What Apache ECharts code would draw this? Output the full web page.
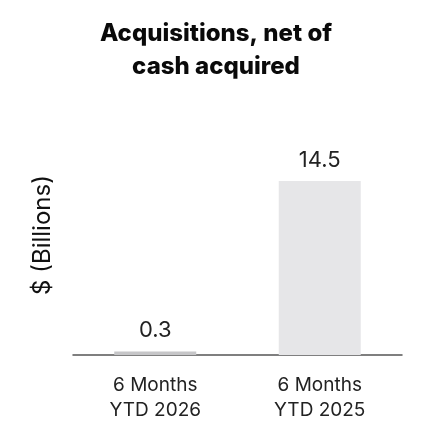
<!DOCTYPE html>
<html><head><meta charset="utf-8">
<script src="https://cdn.jsdelivr.net/npm/echarts@6/dist/echarts.min.js"></script>
<style>html,body{margin:0;padding:0;background:#fff}#c{width:422px;height:440px}</style>
</head><body><div id="c"></div>
<script>
const categories = ['6 Months\nYTD 2026', '6 Months\nYTD 2025'];
const values = [0.3, 14.5];
const barColors = ['#c6c6c8', '#e6e6e8'];
const chart = echarts.init(document.getElementById('c'), null, {renderer: 'canvas'});
chart.setOption({
  animation: false,
  title: {
    text: 'Acquisitions, net of\ncash acquired',
    left: 211, top: 12, textAlign: 'center',
    textStyle: {fontFamily: 'Inter', fontWeight: 800, fontSize: 24, lineHeight: 33, color: '#0a0a0a'}
  },
  grid: {left: 73, right: 20, top: 115, bottom: 85, containLabel: false},
  xAxis: {
    type: 'category', data: categories,
    axisLine: {lineStyle: {color: '#555', width: 1.5}},
    axisTick: {show: false},
    axisLabel: {fontFamily: 'Inter', fontSize: 19, color: '#222', lineHeight: 25, margin: 18}
  },
  yAxis: {
    type: 'value', min: 0, max: 20,
    name: '$ (Billions)', nameLocation: 'middle', nameGap: 18, nameRotate: 90,
    nameTextStyle: {fontFamily: 'Inter', fontSize: 24, color: '#111'},
    axisLine: {show: false}, axisTick: {show: false}, axisLabel: {show: false},
    splitLine: {show: false}
  },
  series: [{
    type: 'bar', barWidth: 82,
    data: values.map((v, i) => ({value: v, itemStyle: {color: barColors[i]}})),
    label: {show: true, position: 'top', distance: 10, fontFamily: 'Inter', fontSize: 22, color: '#222', formatter: p => p.value.toFixed(1)}
  }]
});
</script></body></html>
